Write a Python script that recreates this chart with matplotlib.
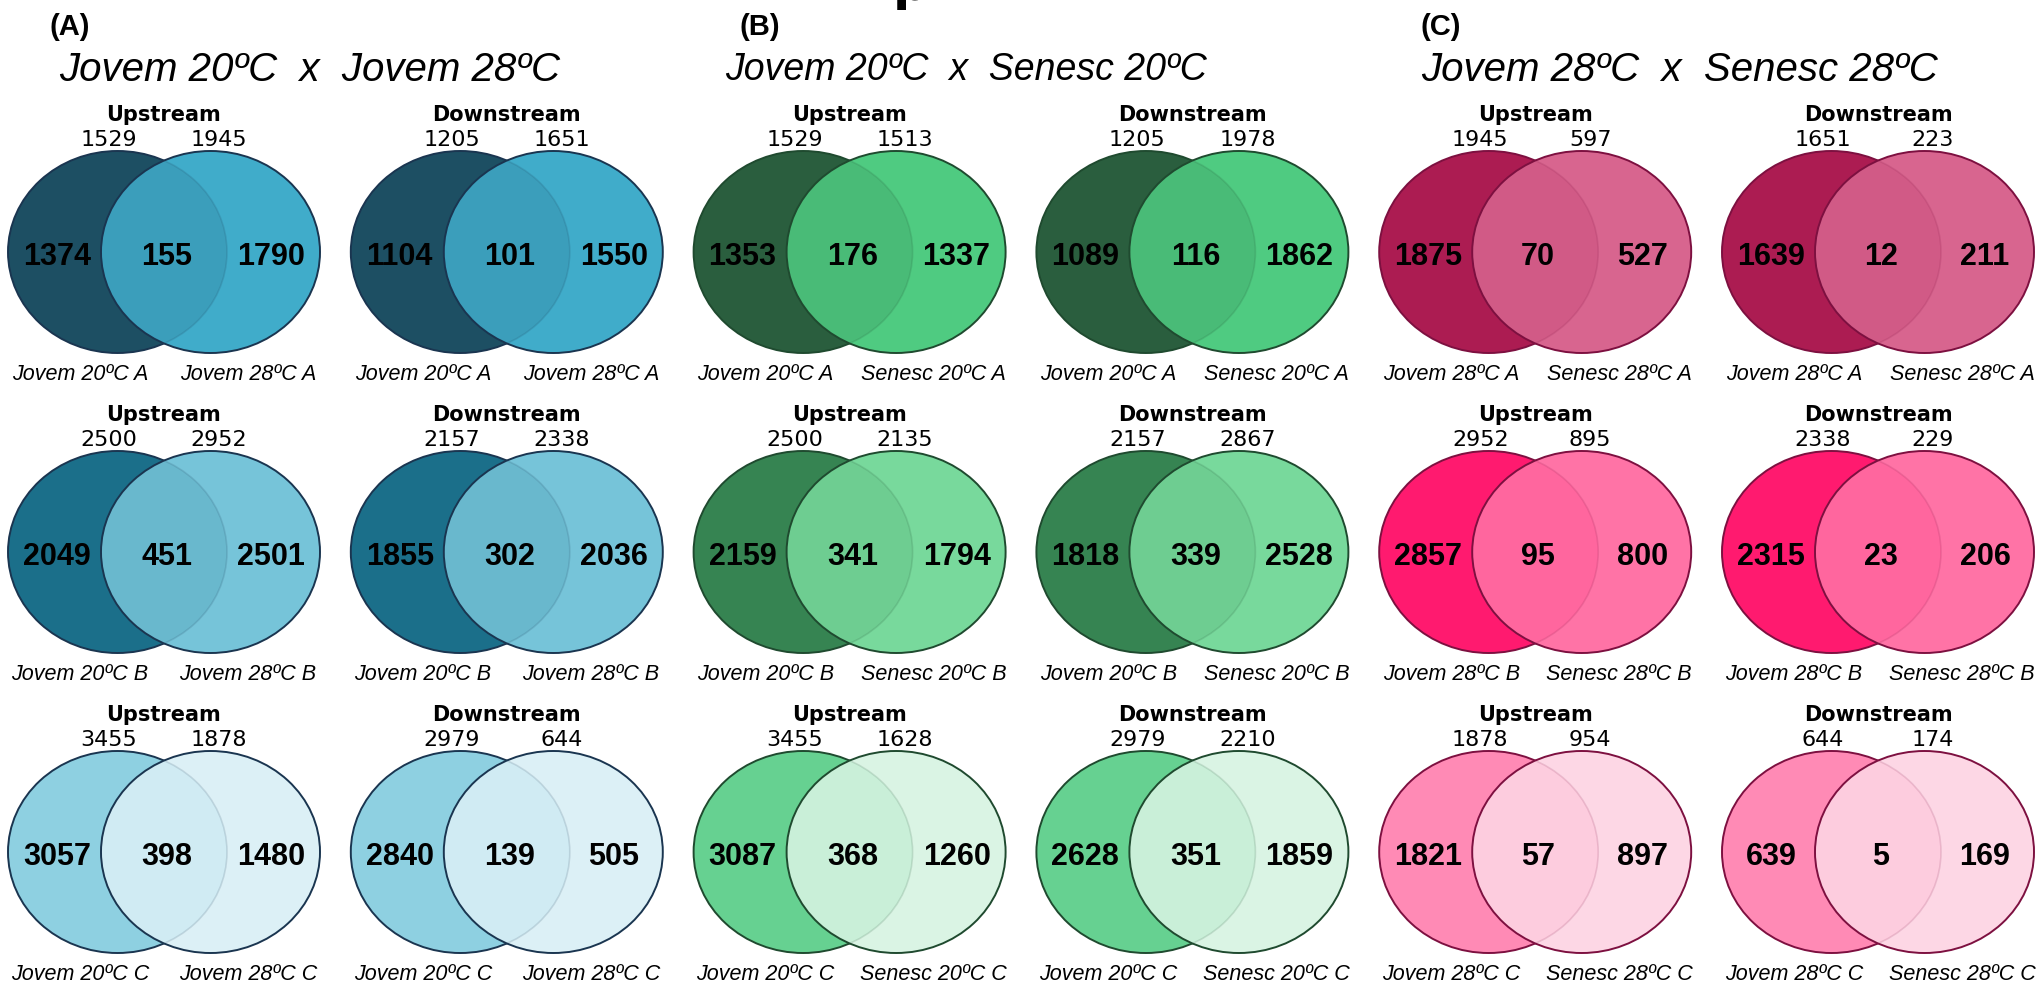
import matplotlib.pyplot as plt
from matplotlib.patches import Ellipse
from matplotlib import font_manager

# ---- data -------------------------------------------------------------
panel_tags = ["(A)", "(B)", "(C)"]
panel_titles = ["Jovem 20ºC  x  Jovem 28ºC",
                "Jovem 20ºC  x  Senesc 20ºC",
                "Jovem 28ºC  x  Senesc 28ºC"]
left_names = ["Jovem 20ºC", "Jovem 20ºC", "Jovem 28ºC"]
right_names = ["Jovem 28ºC", "Senesc 20ºC", "Senesc 28ºC"]
replicates = ["A", "B", "C"]
directions = ["Upstream", "Downstream"]

# order: rep A up, rep A down, rep B up, rep B down, rep C up, rep C down
a_total_l = [1529, 1205, 2500, 2157, 3455, 2979]
a_total_r = [1945, 1651, 2952, 2338, 1878, 644]
a_only_l = [1374, 1104, 2049, 1855, 3057, 2840]
a_both = [155, 101, 451, 302, 398, 139]
a_only_r = [1790, 1550, 2501, 2036, 1480, 505]

b_total_l = [1529, 1205, 2500, 2157, 3455, 2979]
b_total_r = [1513, 1978, 2135, 2867, 1628, 2210]
b_only_l = [1353, 1089, 2159, 1818, 3087, 2628]
b_both = [176, 116, 341, 339, 368, 351]
b_only_r = [1337, 1862, 1794, 2528, 1260, 1859]

c_total_l = [1945, 1651, 2952, 2338, 1878, 644]
c_total_r = [597, 223, 895, 229, 954, 174]
c_only_l = [1875, 1639, 2857, 2315, 1821, 639]
c_both = [70, 12, 95, 23, 57, 5]
c_only_r = [527, 211, 800, 206, 897, 169]

panels = [
    (a_total_l, a_total_r, a_only_l, a_both, a_only_r),
    (b_total_l, b_total_r, b_only_l, b_both, b_only_r),
    (c_total_l, c_total_r, c_only_l, c_both, c_only_r),
]

# ---- styles -----------------------------------------------------------
# (left fill, right fill) per replicate row, per panel
fills = [
    [("#1d4f63", "#40acca"), ("#1b6f8a", "#76c4d9"), ("#8ed0e1", "#dcf0f6")],
    [("#2a5e3e", "#4fcb81"), ("#368452", "#78d99c"), ("#66d191", "#daf4e4")],
    [("#ac1c52", "#d8658f"), ("#ff1a6f", "#ff73a6"), ("#ff8ab5", "#fdd7e5")],
]
edges = ["#1a3550", "#1f4a2f", "#7d1040"]

names = {f.name for f in font_manager.fontManager.ttflist}
arial = "Liberation Sans" if "Liberation Sans" in names else "DejaVu Sans"
title_font = "Liberation Sans Narrow" if "Liberation Sans Narrow" in names else arial
title_sizes = [29, 27, 29] if title_font == arial else [34, 32, 34]

W, H = 2038, 986
fig = plt.figure(figsize=(W / 100, H / 100), dpi=100)
ax = fig.add_axes([0, 0, 1, 1])
ax.set_xlim(0, W)
ax.set_ylim(H, 0)
ax.axis("off")

col_x0, col_step = 164, 342.8
row_y0, row_step = 252, 300
ew, eh, shift = 219, 202, 46.5

tag_x = [50, 740, 1421]
title_x = [310, 966, 1680]


def draw_venn(cx, cy, direction, tl, tr, ol, both, orr, lab_l, lab_r, fl, fr, ec):
    ax.add_patch(Ellipse((cx - shift, cy), ew, eh, facecolor=fl,
                         edgecolor=ec, lw=1.4, zorder=2))
    right = Ellipse((cx + shift, cy), ew, eh, facecolor=fr,
                    edgecolor="none", zorder=3)
    ax.add_patch(right)
    # left set seen faintly through the right one (overlap tint)
    tint = Ellipse((cx - shift, cy), ew, eh, facecolor=fl, edgecolor=ec,
                   lw=1.2, alpha=0.14, zorder=3.5)
    ax.add_patch(tint)
    tint.set_clip_path(right)
    ax.add_patch(Ellipse((cx + shift, cy), ew, eh, facecolor="none",
                         edgecolor=ec, lw=1.4, zorder=4))
    ax.text(cx, cy - 137, direction, ha="center", va="center",
            fontsize=15, fontweight="bold", family="DejaVu Sans")
    ax.text(cx - 55, cy - 112, f"{tl}", ha="center", va="center",
            fontsize=16, family="DejaVu Sans")
    ax.text(cx + 55, cy - 112, f"{tr}", ha="center", va="center",
            fontsize=16, family="DejaVu Sans")
    for dx, v in zip([-107, 3, 107], [ol, both, orr]):
        ax.text(cx + dx, cy + 5, f"{v}", ha="center", va="center",
                fontsize=22, fontweight="bold", family=arial, zorder=5)
    ax.text(cx - 84, cy + 123, lab_l, ha="center", va="center",
            fontsize=15.5, style="italic", family=arial)
    ax.text(cx + 84, cy + 123, lab_r, ha="center", va="center",
            fontsize=15.5, style="italic", family=arial)


for p, (tl, tr, ol, both, orr) in enumerate(panels):
    ax.text(tag_x[p], 27, panel_tags[p], ha="left", va="center",
            fontsize=21, fontweight="bold", family=arial)
    ax.text(title_x[p], 70, panel_titles[p], ha="center", va="center",
            fontsize=title_sizes[p], style="italic", family=title_font)
    for r, rep in enumerate(replicates):
        for d, direction in enumerate(directions):
            k = r * 2 + d
            cx = col_x0 + col_step * (p * 2 + d)
            cy = row_y0 + row_step * r
            fl, fr = fills[p][r]
            draw_venn(cx, cy, direction, tl[k], tr[k], ol[k], both[k], orr[k],
                      f"{left_names[p]} {rep}", f"{right_names[p]} {rep}",
                      fl, fr, edges[p])

# descender of a heading that is cut off at the very top of the reference
fig.text(893 / W, 1.0, "p", fontsize=36, fontweight="bold", va="baseline",
         family="DejaVu Sans")

fig.savefig("out.png", dpi=100, facecolor="white")
